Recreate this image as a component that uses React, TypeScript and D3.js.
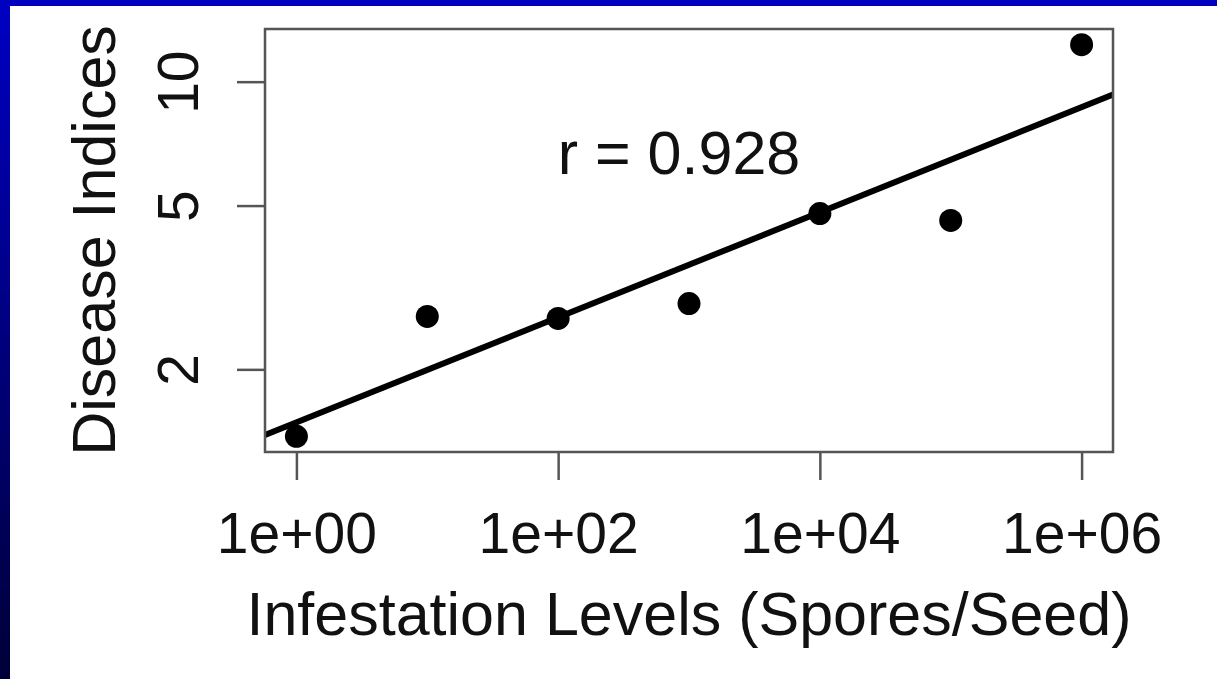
import { useEffect, useRef } from 'react';
import * as d3 from 'd3';

// spores per seed (log scale) and disease index
const sporeLevels = [1, 10, 100, 1000, 10000, 100000, 1000000];
const diseaseIndices = [1.375, 2.69, 2.66, 2.89, 4.78, 4.6, 12.3];
const xTickValues = [1, 100, 10000, 1000000];
const xTickLabels = ['1e+00', '1e+02', '1e+04', '1e+06'];
const yTickValues = [2, 5, 10];
const yTickLabels = ['2', '5', '10'];
const corrLabel = 'r = 0.928';
const xTitle = 'Infestation Levels (Spores/Seed)';
const yTitle = 'Disease Indices';

const W = 1217;
const H = 679;
const FONT = '"Liberation Sans", Arial, Helvetica, sans-serif';

// R style 4% padding of a log domain
const padLog = (vals: number[]) => {
  const lo = Math.log10(d3.min(vals) as number);
  const hi = Math.log10(d3.max(vals) as number);
  const p = (hi - lo) * 0.04;
  return [Math.pow(10, lo - p), Math.pow(10, hi + p)];
};

function ScatterChart() {
  const svgRef = useRef<SVGSVGElement>(null);
  const mountedRef = useRef(false);

  useEffect(() => {
    if (mountedRef.current) return;
    const svg = d3.select(svgRef.current);
    svg.selectAll('*').remove();

    const plot = { left: 265, right: 1113, top: 29, bottom: 452 };

    const x = d3.scaleLog().domain(padLog(sporeLevels)).range([plot.left, plot.right]);
    const y = d3.scaleLog().domain(padLog(diseaseIndices)).range([plot.bottom, plot.top]);

    // slide background
    const defs = svg.append('defs');
    const grad = defs
      .append('linearGradient')
      .attr('id', 'sideGrad')
      .attr('x1', 0)
      .attr('y1', 0)
      .attr('x2', 0)
      .attr('y2', 1);
    grad.append('stop').attr('offset', '0%').attr('stop-color', '#0000c4');
    grad.append('stop').attr('offset', '100%').attr('stop-color', '#000038');
    defs
      .append('clipPath')
      .attr('id', 'plotClip')
      .append('rect')
      .attr('x', plot.left)
      .attr('y', plot.top)
      .attr('width', plot.right - plot.left)
      .attr('height', plot.bottom - plot.top);

    svg.append('rect').attr('width', W).attr('height', H).attr('fill', '#ffffff');
    svg.append('rect').attr('width', 10).attr('height', H).attr('fill', 'url(#sideGrad)');
    svg.append('rect').attr('width', W).attr('height', 6).attr('fill', '#0000c0');

    // least squares fit in log-log space
    const lx = sporeLevels.map((d) => Math.log10(d));
    const ly = diseaseIndices.map((d) => Math.log10(d));
    const mx = d3.mean(lx) as number;
    const my = d3.mean(ly) as number;
    const slope =
      d3.sum(lx, (v, i) => (v - mx) * (ly[i] - my)) / d3.sum(lx, (v) => (v - mx) * (v - mx));
    const intercept = my - slope * mx;
    const fit = (v: number) => Math.pow(10, intercept + slope * Math.log10(v));
    const [x0, x1] = x.domain();

    svg
      .append('line')
      .attr('clip-path', 'url(#plotClip)')
      .attr('x1', x(x0))
      .attr('y1', y(fit(x0)))
      .attr('x2', x(x1))
      .attr('y2', y(fit(x1)))
      .attr('stroke', '#000')
      .attr('stroke-width', 6);

    svg
      .selectAll('circle.pt')
      .data(sporeLevels)
      .enter()
      .append('circle')
      .attr('class', 'pt')
      .attr('cx', (d) => x(d))
      .attr('cy', (d, i) => y(diseaseIndices[i]))
      .attr('r', 11.5)
      .attr('fill', '#000');

    // box
    svg
      .append('rect')
      .attr('x', plot.left)
      .attr('y', plot.top)
      .attr('width', plot.right - plot.left)
      .attr('height', plot.bottom - plot.top)
      .attr('fill', 'none')
      .attr('stroke', '#555')
      .attr('stroke-width', 2.5);

    // x axis
    const xAxis = svg
      .append('g')
      .attr('transform', `translate(0, ${plot.bottom})`)
      .call(
        d3
          .axisBottom(x)
          .tickValues(xTickValues)
          .tickSize(28)
          .tickFormat((d, i) => xTickLabels[i])
      );
    xAxis.select('.domain').remove();
    xAxis.selectAll('line').attr('stroke', '#555').attr('stroke-width', 2.5);
    xAxis
      .selectAll('text')
      .attr('y', 101)
      .attr('dy', null)
      .attr('fill', '#111')
      .style('font-family', FONT)
      .style('font-size', '57px');

    // y axis, labels parallel to the axis
    const yAxis = svg
      .append('g')
      .attr('transform', `translate(${plot.left}, 0)`)
      .call(
        d3
          .axisLeft(y)
          .tickValues(yTickValues)
          .tickSize(28)
          .tickFormat((d, i) => yTickLabels[i])
      );
    yAxis.select('.domain').remove();
    yAxis.selectAll('line').attr('stroke', '#555').attr('stroke-width', 2.5);
    yAxis
      .selectAll('text')
      .attr('x', null)
      .attr('dy', null)
      .attr('text-anchor', 'middle')
      .attr('transform', 'translate(-67, 0) rotate(-90)')
      .attr('fill', '#111')
      .style('font-family', FONT)
      .style('font-size', '57px');

    svg
      .append('text')
      .attr('x', (plot.left + plot.right) / 2)
      .attr('y', 635)
      .attr('text-anchor', 'middle')
      .attr('fill', '#111')
      .style('font-family', FONT)
      .style('font-size', '61px')
      .text(xTitle);

    svg
      .append('text')
      .attr('transform', `translate(115, ${(plot.top + plot.bottom) / 2}) rotate(-90)`)
      .attr('text-anchor', 'middle')
      .attr('fill', '#111')
      .style('font-family', FONT)
      .style('font-size', '61px')
      .text(yTitle);

    svg
      .append('text')
      .attr('x', x(1000) - 10)
      .attr('y', 174)
      .attr('text-anchor', 'middle')
      .attr('fill', '#111')
      .style('font-family', FONT)
      .style('font-size', '61px')
      .text(corrLabel);

    mountedRef.current = true;
  }, []);

  return <svg ref={svgRef} width={W} height={H} style={{ display: 'block' }} />;
}

export default function App() {
  return (
    <div style={{ position: 'fixed', left: 0, top: 0, width: W, height: H, overflow: 'hidden' }}>
      <ScatterChart />
    </div>
  );
}
